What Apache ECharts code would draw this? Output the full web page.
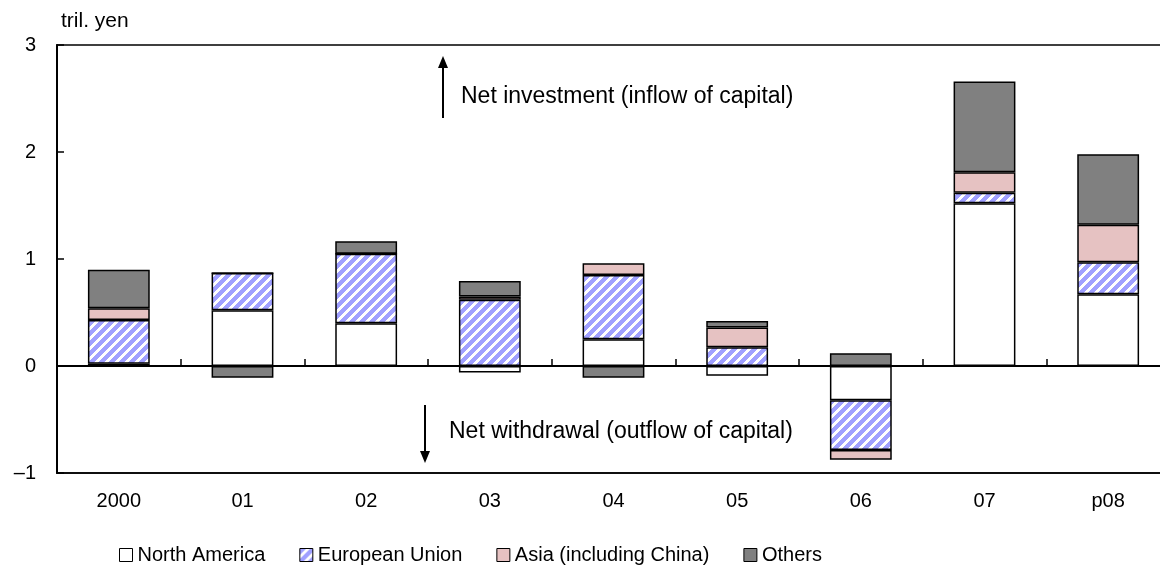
<!DOCTYPE html>
<html>
<head>
<meta charset="utf-8">
<script src="https://cdn.jsdelivr.net/npm/echarts@6/dist/echarts.min.js"></script>
<style>
html,body{margin:0;padding:0;background:#fff;overflow:hidden;}
#chart{width:1175px;height:567px;}
</style>
</head>
<body>
<div id="chart"></div>
<script>
const categories = ['2000','01','02','03','04','05','06','07','p08'];
const northAmerica = [0.02, 0.52, 0.40, -0.06, 0.25, -0.09, -0.32, 1.52, 0.67];
const europeanUnion = [0.41, 0.35, 0.65, 0.62, 0.60, 0.175, -0.465, 0.10, 0.30];
const asia = [0.11, 0, 0, 0.03, 0.11, 0.185, -0.09, 0.19, 0.35];
const others = [0.36, -0.11, 0.115, 0.145, -0.11, 0.06, 0.12, 0.85, 0.66];
const yTicks = ['–1','0','1','2','3'];
const seriesNames = ['North America','European Union','Asia (including China)','Others'];

function hatch(){
  const n = 10;
  const c = document.createElement('canvas');
  c.width = n; c.height = n;
  const ctx = c.getContext('2d');
  const img = ctx.createImageData(n,n);
  for(let y=0;y<n;y++){
    for(let x=0;x<n;x++){
      const i=(y*n+x)*4;
      const blue = ((x+y)%n) < 6;
      img.data[i]= blue?160:255;
      img.data[i+1]= blue?160:255;
      img.data[i+2]= 255;
      img.data[i+3]=255;
    }
  }
  ctx.putImageData(img,0,0);
  return c;
}
const hatchPattern = {image: hatch(), repeat:'repeat'};
const fills = ['#ffffff', hatchPattern, '#e6c2c2', '#808080'];
const dataSets = [northAmerica, europeanUnion, asia, others];

const font = 'Liberation Sans, Arial, sans-serif';
const chart = echarts.init(document.getElementById('chart'));
const series = dataSets.map((d,i)=>({
  name: seriesNames[i],
  type:'bar',
  stack:'total',
  barWidth:'50%',
  data:d,
  itemStyle:{color:fills[i], borderColor:'#000', borderWidth:1.5},
  emphasis:{disabled:true}
}));

chart.setOption({
  animation:false,
  textStyle:{fontFamily:font},
  grid:{left:57, top:45, width:1113, height:428, show:true, borderColor:'#000', borderWidth:1.5, backgroundColor:'#fff'},
  legend:{
    data: seriesNames.map((n,i)=>({name:n, itemStyle:{color:fills[i], borderColor: '#000', borderWidth:1}})),
    left:114, top:540, itemWidth:13, itemHeight:13, itemGap:34,
    textStyle:{fontSize:20, color:'#000', fontFamily:font, padding:[0,0,0,0]},
    icon:'rect'
  },
  xAxis:[
    {type:'category', data:categories, position:'bottom',
     axisLine:{onZero:false, show:true, lineStyle:{color:'#000', width:1.5}},
     axisTick:{show:false},
     axisLabel:{fontSize:20, color:'#000', margin:18, fontFamily:font}},
    {type:'category', data:categories, position:'top',
     axisLine:{onZero:true, show:true, lineStyle:{color:'#000', width:2}},
     axisTick:{show:true, inside:false, length:7, lineStyle:{color:'#000', width:1.5}},
     axisLabel:{show:false}}
  ],
  yAxis:{
    type:'value', min:-1, max:3, interval:1,
    axisLine:{show:true, lineStyle:{color:'#000', width:2}},
    axisTick:{show:true, inside:true, length:7, lineStyle:{color:'#000', width:1.5}},
    splitLine:{show:false},
    axisLabel:{fontSize:20, color:'#000', margin:21, fontFamily:font,
      formatter:(v)=> yTicks[Math.round(v)+1]},
    name:'tril. yen', nameLocation:'end', nameGap:13,
    nameTextStyle:{fontSize:21, color:'#000', align:'left', padding:[0,0,0,4], fontFamily:font}
  },
  graphic:[
    {type:'line', shape:{x1:443,y1:118,x2:443,y2:66}, style:{stroke:'#000', lineWidth:2}},
    {type:'polygon', shape:{points:[[438,68],[448,68],[443,56]]}, style:{fill:'#000'}},
    {type:'text', left:461, top:85, style:{text:'Net investment (inflow of capital)', fontSize:23, fill:'#000', fontFamily:font}},
    {type:'line', shape:{x1:425,y1:405,x2:425,y2:452}, style:{stroke:'#000', lineWidth:2}},
    {type:'polygon', shape:{points:[[420,451],[430,451],[425,463]]}, style:{fill:'#000'}},
    {type:'text', left:449, top:420, style:{text:'Net withdrawal (outflow of capital)', fontSize:23, fill:'#000', fontFamily:font}}
  ],
  series: series
});
</script>
</body>
</html>
